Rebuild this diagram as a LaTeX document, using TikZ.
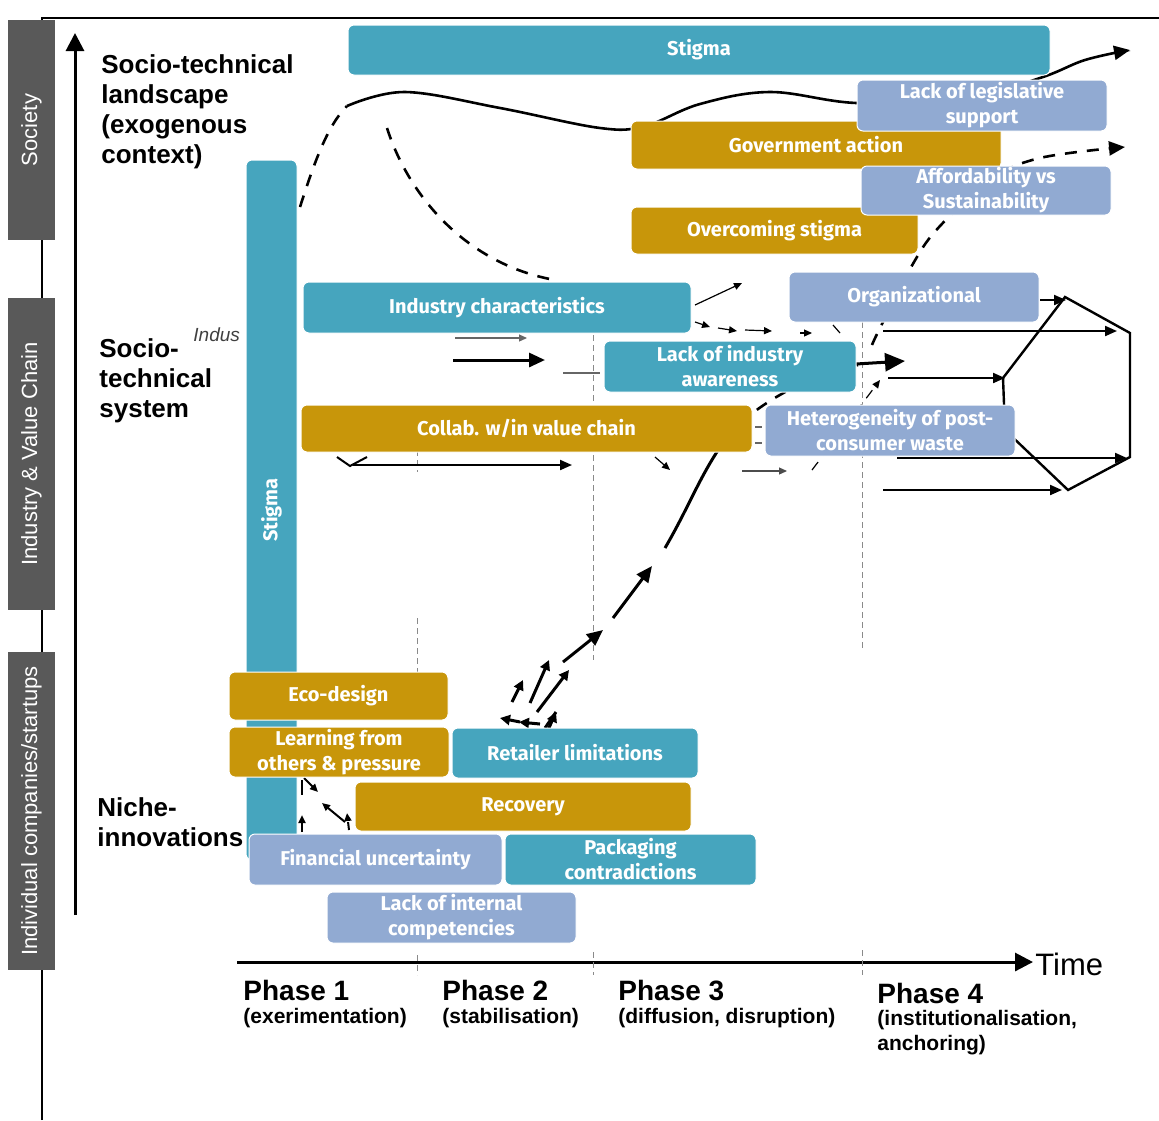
\documentclass[tikz,border=0pt]{standalone}
\usepackage{fontspec}
\setmainfont{Liberation Sans}
\newfontfamily\bxfont{Fira Sans}
\usetikzlibrary{arrows.meta}
\definecolor{cteal}{HTML}{46A5BE}
\definecolor{cgold}{HTML}{C8960A}
\definecolor{cblue}{HTML}{91AAD2}
\definecolor{cgray}{HTML}{595959}
\definecolor{cdash}{HTML}{8A8A8A}
\newcommand\mybox[7]{\node[#1, minimum width={(#5-#3)*0.5pt}, minimum height={(#6-#4)*0.5pt}] (#2) at ({(#3+#5)/2},{(#4+#6)/2}) {#7};}
\begin{document}
\begin{tikzpicture}[x=0.5pt,y=-0.5pt,
 bx/.style={rounded corners=3pt, draw=white, line width=0.5pt, text=white, font=\bxfont\bfseries\fontsize{10}{12.5}\selectfont, align=center, inner sep=0pt},
 tealbox/.style={bx, fill=cteal},
 goldbox/.style={bx, fill=cgold},
 bluebox/.style={bx, fill=cblue},
 graybox/.style={fill=cgray, text=white, font=\fontsize{11}{13}\selectfont, inner sep=0pt, rotate=90},
 lbl/.style={font=\bfseries\fontsize{13}{15}\selectfont, align=left, inner sep=0pt, anchor=west},
 phasetitle/.style={font=\bfseries\fontsize{14}{16}\selectfont, inner sep=0pt, anchor=west, align=left},
 phasesub/.style={font=\bfseries\fontsize{10.5}{12.5}\selectfont, inner sep=0pt, anchor=north west, align=left},
 phaseline/.style={cdash, line width=0.5pt, dash pattern=on 3pt off 2pt},
 bigtip/.style={-{Triangle[length=8pt,width=7pt]}},
 midtip/.style={-{Triangle[length=6pt,width=5pt]}},
 smalltip/.style={-{Triangle[length=4pt,width=3.5pt]}},
 thickline/.style={line width=1.5pt},
 medline/.style={line width=1pt},
 thinline/.style={line width=0.6pt},
 dashedthick/.style={line width=1.3pt, dash pattern=on 6pt off 5pt},
]
\useasboundingbox (0,0) rectangle (1159,1120);
% frame
\draw[line width=1pt] (42,1120) -- (42,18) -- (1159,18);
% gray side bars
\node[graybox, minimum width=110pt, minimum height=23.5pt] (soc) at (31.5,130) {Society};
\node[graybox, minimum width=156pt, minimum height=23.5pt] (ivc) at (31.5,454) {Industry \& Value Chain};
\node[graybox, minimum width=159pt, minimum height=23.5pt] (ind) at (31.5,811) {Individual companies/startups};
% vertical axis
\coordinate (vaxb) at (75,915); \coordinate (vaxt) at (75,33);
\draw[thickline, -{Triangle[length=9pt,width=9pt]}] (vaxb) -- (vaxt);
% time axis
\coordinate (taxl) at (237,962); \coordinate (taxr) at (1033,962);
\draw[thickline, -{Triangle[length=9pt,width=9pt]}] (taxl) -- (taxr);
\node[font=\fontsize{15.5}{17}\selectfont, inner sep=0pt, anchor=west] (time) at (1035,964) {Time};
% phase dashed lines
\draw[phaseline] (417,440) -- (417,472);
\draw[phaseline] (417,618) -- (417,680);
\draw[phaseline] (417,955) -- (417,975);
\draw[phaseline] (593,335) -- (593,660);
\draw[phaseline] (593,952) -- (593,975);
\draw[phaseline] (862,292) -- (862,650);
\draw[phaseline] (862,950) -- (862,975);
% left labels
\node[lbl] (land) at (101,112) {Socio-technical\\landscape\\(exogenous\\context)};
\node[lbl] (sys) at (99,381) {Socio-\\technical\\system};
\node[lbl] (niche) at (97,822) {Niche-\\innovations};
\node[font=\itshape\fontsize{9.5}{11}\selectfont, text=black!75, inner sep=0pt, anchor=west] (indus) at (193,335) {Indus};
% phases
\node[phasetitle] (p1) at (243,990) {Phase 1};
\node[phasesub] (p1s) at (243,1008) {(exerimentation)};
\node[phasetitle] (p2) at (442,990) {Phase 2};
\node[phasesub] (p2s) at (442,1008) {(stabilisation)};
\node[phasetitle] (p3) at (618,990) {Phase 3};
\node[phasesub] (p3s) at (618,1008) {(diffusion, disruption)};
\node[phasetitle] (p4) at (877,993) {Phase 4};
\node[phasesub] (p4s) at (877,1010) {(institutionalisation,\\anchoring)};
% landscape curves
\draw[line width=1.3pt, -{Triangle[length=8pt,width=7pt]}] plot[smooth, tension=0.6] coordinates {(347,106) (405,92) (500,108) (600,128) (645,126) (700,104) (770,92) (856,103) (960,100) (1040,78) (1085,60) (1130,50)};
\draw[dashedthick] (300,207) .. controls (315,160) and (328,125) .. (347,106);
\draw[dashedthick] (387,128) .. controls (410,200) and (470,265) .. (555,280);
% upward dashed trajectory
\draw[dashedthick, -{Triangle[length=8pt,width=7pt]}] plot[smooth, tension=0.6] coordinates {(872,345) (880,328) (914,262) (940,226) (990,180) (1040,158) (1125,147)};
% niche trajectory
\draw[line width=1.5pt] (545,728) -- (556,712);
\draw[thickline, -{Triangle[length=5pt,width=5pt]}] (512,702) -- (523,680);
\draw[thickline, -{Triangle[length=5pt,width=5pt]}] (530,703) -- (549,660);
\draw[thickline, -{Triangle[length=5pt,width=5pt]}] (537,712) -- (569,670);
\draw[thickline, -{Triangle[length=5pt,width=5pt]}] (520,722) -- (500,718);
\draw[thickline, -{Triangle[length=5pt,width=5pt]}] (540,724) -- (519,722);
\draw[thickline, -{Triangle[length=5pt,width=5pt]}] (548,730) -- (556,712);
\draw[thickline, bigtip] (563,662) -- (603,630);
\draw[thickline, bigtip] (613,618) -- (652,566);
\draw[thickline] (665,548) .. controls (690,505) and (700,475) .. (725,440);
\draw[dashedthick] (725,440) .. controls (750,408) and (800,378) .. (858,365);
\draw[thickline, -{Triangle[length=10pt,width=9pt]}] (856,364) -- (905,361);
% thin arrows around industry characteristics
\draw[thinline, smalltip] (695,305) -- (742,283);
\draw[thinline, smalltip] (695,322) -- (710,327);
\draw[thinline, smalltip] (718,328) -- (737,331);
\draw[thinline, smalltip] (745,330) -- (772,331);
\draw[thinline, smalltip] (800,333) -- (812,333);
\draw[thinline] (833,325) -- (840,333);
\draw[thickline, bigtip] (453,360) -- (545,360);
\draw[thinline, black!60, smalltip] (455,338) -- (527,338);
\draw[thinline, black!60] (563,373) -- (600,373);
% below collab
\draw[medline] (337,457) -- (350,466) -- (367,457);
\draw[medline, midtip] (353,465) -- (572,465);
\draw[thinline, smalltip] (655,457) -- (670,470);
\draw[thinline, black!70, smalltip] (742,471) -- (787,471);
\draw[thinline, dash pattern=on 5pt off 4pt, smalltip] (812,470) -- (880,380);
\draw[thinline, black!60] (755,427) -- (762,427);
\draw[thinline, black!60] (755,443) -- (762,443);
% hexagon
\draw[line width=1.2pt] (1065,297) -- (1130,333) -- (1130,457) -- (1068,490) -- (1005,430) -- (1003,378) -- cycle;
\draw[medline, midtip] (1040,300) -- (1066,300);
\draw[medline, midtip] (883,331) -- (1117,331);
\draw[medline, midtip] (888,378) -- (1005,378);
\draw[medline, midtip] (897,458) -- (1127,458);
\draw[medline, midtip] (883,490) -- (1062,490);
% loop arrows niche
\draw[medline, dash pattern=on 4pt off 3pt, smalltip] (349,830) -- (347,813);
\draw[medline, smalltip] (345,822) -- (322,803);
\draw[medline, smalltip] (302,832) -- (302,815);
\draw[medline] (302,780) -- (302,795);
\draw[medline, smalltip] (304,778) -- (318,792);
% boxes
\mybox{tealbox}{stigtop}{348}{25}{1050}{75}{Stigma}
\mybox{goldbox}{gov}{631}{121}{1001}{169}{Government action}
\mybox{bluebox}{legis}{857}{80}{1107}{131}{Lack of legislative\\support}
\mybox{goldbox}{overc}{631}{207}{918}{254}{Overcoming stigma}
\mybox{bluebox}{afford}{861}{166}{1111}{215}{Affordability vs\\Sustainability}
\mybox{tealbox}{indch}{303}{282}{691}{333}{Industry characteristics}
\mybox{bluebox}{org}{789}{272}{1039}{322}{Organizational}
\mybox{tealbox}{lackind}{604}{341}{856}{392}{Lack of industry\\awareness}
\mybox{goldbox}{collab}{301}{405}{752}{452}{Collab. w/in value chain}
\mybox{bluebox}{hetero}{765}{405}{1015}{456}{Heterogeneity of post-\\consumer waste}
\node[tealbox, rotate=90, minimum width=350pt, minimum height=25.5pt] (stigv) at (271.5,510) {Stigma};
\mybox{goldbox}{eco}{229}{672}{448}{720}{Eco-design}
\mybox{goldbox}{learn}{229}{727}{449}{777}{Learning from\\others \& pressure}
\mybox{tealbox}{retail}{452}{728}{698}{778}{Retailer limitations}
\mybox{goldbox}{recov}{355}{782}{691}{831}{Recovery}
\mybox{bluebox}{finan}{249}{834}{502}{885}{Financial uncertainty}
\mybox{tealbox}{pack}{505}{834}{756}{885}{Packaging\\contradictions}
\mybox{bluebox}{lackint}{327}{892}{576}{943}{Lack of internal\\competencies}
\end{tikzpicture}
\end{document}
